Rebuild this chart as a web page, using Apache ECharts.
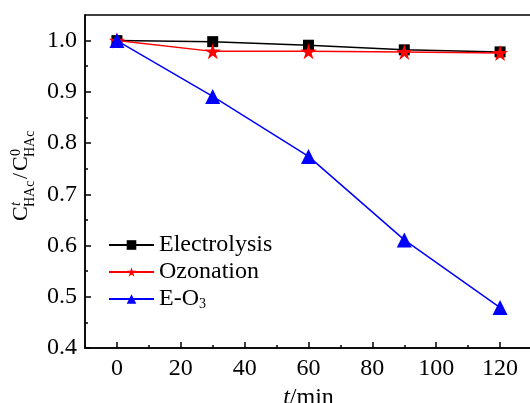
<!DOCTYPE html>
<html>
<head>
<meta charset="utf-8">
<script src="https://cdn.jsdelivr.net/npm/echarts@6/dist/echarts.min.js"></script>
<style>
  html, body { margin: 0; padding: 0; background: #fff; }
  #chart { width: 530px; height: 403px; }
</style>
</head>
<body>
<div id="chart"></div>
<script>
const chart = echarts.init(document.getElementById('chart'));

// Data
const times = [0, 30, 60, 90, 120];
const electrolysis = [1.0, 0.998, 0.991, 0.982, 0.978];
const ozonation = [1.0, 0.979, 0.979, 0.978, 0.976];
const eO3 = [1.0, 0.891, 0.774, 0.611, 0.479];

const xMajor = [0, 20, 40, 60, 80, 100, 120];
const xMinor = [-10, 10, 30, 50, 70, 90, 110, 130];
const yMajor = [0.4, 0.5, 0.6, 0.7, 0.8, 0.9, 1.0];
const yMinor = [0.45, 0.55, 0.65, 0.75, 0.85, 0.95];

const font = '"Liberation Serif", "Times New Roman", Times, serif';
const pairs = (ys) => times.map((t, i) => [t, ys[i]]);

const baseX = {
    type: 'value', min: -10, max: 130, gridIndex: 0, position: 'bottom',
    splitLine: { show: false }
};
const baseY = {
    type: 'value', min: 0.4, max: 1.05, gridIndex: 0, position: 'left',
    splitLine: { show: false }
};

const option = {
    backgroundColor: '#fff',
    animation: false,
    grid: {
        left: 85, top: 15, right: -2, bottom: 55,
        outerBoundsMode: 'none', containLabel: false,
        show: true, borderColor: '#000', borderWidth: 1.5, backgroundColor: 'transparent'
    },
    legend: {
        orient: 'vertical',
        left: 103, top: 228,
        itemWidth: 45, itemHeight: 12, itemGap: 3,
        data: ['Electrolysis', 'Ozonation', 'E-O3'],
        formatter: (name) => name === 'E-O3' ? '{t|E-O}{s|3}' : '{t|' + name + '}',
        textStyle: {
            fontFamily: font, fontSize: 24, color: '#000',
            rich: {
                t: { fontFamily: font, fontSize: 24, color: '#000', lineHeight: 24 },
                s: { fontFamily: font, fontSize: 14, color: '#000', verticalAlign: 'bottom', lineHeight: 14, padding: [10, 0, 0, 0] }
            }
        }
    },
    xAxis: [
        Object.assign({}, baseX, {
            axisLine: { show: true, onZero: false, lineStyle: { color: '#000', width: 1.5 } },
            axisTick: { show: true, inside: true, length: 6, customValues: xMajor, lineStyle: { color: '#000', width: 1.5 } },
            axisLabel: { customValues: xMajor, fontFamily: font, fontSize: 24, color: '#000', margin: 9 },
            name: '{i|t}/min',
            nameLocation: 'middle',
            nameGap: 38,
            nameTextStyle: {
                fontFamily: font, fontSize: 24, color: '#000',
                rich: {
                    i: { fontFamily: font, fontSize: 24, fontStyle: 'italic', color: '#000' }
                }
            }
        }),
        Object.assign({}, baseX, {
            axisLine: { show: false, onZero: false },
            axisTick: { show: true, inside: true, length: 3, customValues: xMinor, lineStyle: { color: '#000', width: 1.5 } },
            axisLabel: { show: false }
        })
    ],
    yAxis: [
        Object.assign({}, baseY, {
            axisLine: { show: true, onZero: false, lineStyle: { color: '#000', width: 1.5 } },
            axisTick: { show: true, inside: true, length: 6, customValues: yMajor, lineStyle: { color: '#000', width: 1.5 } },
            axisLabel: { customValues: yMajor, fontFamily: font, fontSize: 24, color: '#000', margin: 8,
                formatter: (v) => v.toFixed(1) }
        }),
        Object.assign({}, baseY, {
            axisLine: { show: false, onZero: false },
            axisTick: { show: true, inside: true, length: 3, customValues: yMinor, lineStyle: { color: '#000', width: 1.5 } },
            axisLabel: { show: false }
        })
    ],
    // y axis title C^t_HAc / C^0_HAc, rotated to read bottom-up
    graphic: [{
        type: 'group',
        x: 32, y: 221,
        rotation: Math.PI / 2,
        children: [
            { type: 'text', x: 0, y: 0, style: { text: 'C', font: '22px "Liberation Serif", "Times New Roman", serif', fill: '#000', textVerticalAlign: 'bottom' } },
            { type: 'text', x: 15, y: -9, style: { text: 't', font: 'italic 14px "Liberation Serif", "Times New Roman", serif', fill: '#000', textVerticalAlign: 'bottom' } },
            { type: 'text', x: 14, y: 5, style: { text: 'HAc', font: '14px "Liberation Serif", "Times New Roman", serif', fill: '#000', textVerticalAlign: 'bottom' } },
            { type: 'text', x: 42, y: 0, style: { text: '/', font: '22px "Liberation Serif", "Times New Roman", serif', fill: '#000', textVerticalAlign: 'bottom' } },
            { type: 'text', x: 50, y: 0, style: { text: 'C', font: '22px "Liberation Serif", "Times New Roman", serif', fill: '#000', textVerticalAlign: 'bottom' } },
            { type: 'text', x: 65, y: -9, style: { text: '0', font: '14px "Liberation Serif", "Times New Roman", serif', fill: '#000', textVerticalAlign: 'bottom' } },
            { type: 'text', x: 64, y: 5, style: { text: 'HAc', font: '14px "Liberation Serif", "Times New Roman", serif', fill: '#000', textVerticalAlign: 'bottom' } }
        ]
    }],
    series: [
        {
            name: 'Electrolysis', type: 'line', data: pairs(electrolysis),
            symbol: 'rect', symbolSize: 11,
            itemStyle: { color: '#000' }, lineStyle: { color: '#000', width: 1.5 }, z: 3
        },
        {
            name: 'Ozonation', type: 'line', data: pairs(ozonation),
            symbol: 'path://M50,0 L61.8,36.2 L100,36.2 L69.1,58.8 L80.9,95.1 L50,72.7 L19.1,95.1 L30.9,58.8 L0,36.2 L38.2,36.2 Z',
            symbolSize: 16,
            itemStyle: { color: '#f00' }, lineStyle: { color: '#f00', width: 1.5 }, z: 4
        },
        {
            name: 'E-O3', type: 'line', data: pairs(eO3),
            symbol: 'triangle', symbolSize: 15,
            itemStyle: { color: '#00f' }, lineStyle: { color: '#00f', width: 1.5 }, z: 5
        }
    ]
};

chart.setOption(option);
</script>
</body>
</html>
